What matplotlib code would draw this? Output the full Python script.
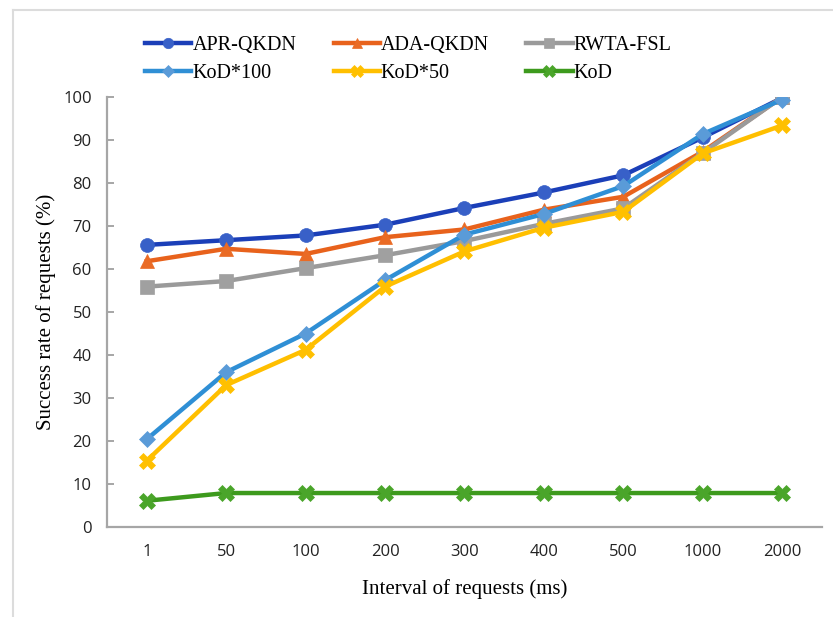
import numpy as np
import matplotlib
matplotlib.use("Agg")
import matplotlib.pyplot as plt
from matplotlib.lines import Line2D

# ---------------------------------------------------------------------------
# data
# ---------------------------------------------------------------------------
intervals = ["1", "50", "100", "200", "300", "400", "500", "1000", "2000"]

apr_qkdn  = [65.6, 66.7, 67.8, 70.3, 74.2, 77.8, 81.8, 90.6, 99.8]
ada_qkdn  = [61.8, 64.7, 63.5, 67.4, 69.2, 73.8, 76.8, 87.3, 100.0]
rwta_fsl  = [55.9, 57.2, 60.2, 63.2, 66.5, 70.5, 74.1, 87.0, 100.0]
kod_100   = [20.4, 36.0, 45.0, 57.4, 68.0, 72.8, 79.3, 91.4, 99.4]
kod_50    = [15.4, 33.0, 41.2, 55.9, 64.1, 69.6, 73.3, 86.9, 93.4]
kod       = [6.1, 7.9, 7.9, 7.9, 7.9, 7.9, 7.9, 7.9, 7.9]

series_names = ["APR-QKDN", "ADA-QKDN", "RWTA-FSL", "KoD*100", "KoD*50", "KoD"]

# ---------------------------------------------------------------------------
# styles
# ---------------------------------------------------------------------------
styles = [
    dict(color="#1b3fb8", marker="o", mfc="#3860c8", ms=10),
    dict(color="#e8621c", marker="^", mfc="#ea6b25", ms=10),
    dict(color="#9a9a9a", marker="s", mfc="#a0a0a0", ms=9.5),
    dict(color="#2f8fd5", marker="D", mfc="#5a9bd8", ms=8.5),
    dict(color="#ffbf00", marker="X", mfc="#ffc000", ms=11),
    dict(color="#3d9a1d", marker="X", mfc="#4aa52a", ms=11),
]
data = [apr_qkdn, ada_qkdn, rwta_fsl, kod_100, kod_50, kod]

fig = plt.figure(figsize=(8.33, 6.17), dpi=100)
ax = fig.add_axes([107 / 833, 1 - 527 / 617, (822 - 107) / 833, (527 - 97) / 617])

x = np.arange(len(intervals))
lines = []
for name, vals, st in zip(series_names, data, styles):
    ln, = ax.plot(x, vals, color=st["color"], lw=3.2, marker=st["marker"],
                  ms=st["ms"], mfc=st["mfc"], mec=st["mfc"], mew=0.5,
                  label=name, zorder=3)
    lines.append(ln)

ax.set_xlim(-0.5, len(intervals) - 0.5)
ax.set_ylim(0, 100)
ax.set_xticks(x)
ax.set_xticklabels(intervals)
ax.set_yticks(np.arange(0, 101, 10))

for s in ["top", "right"]:
    ax.spines[s].set_visible(False)
for s in ["left", "bottom"]:
    ax.spines[s].set_color("#a6a6a6")
    ax.spines[s].set_linewidth(1.6)

ax.tick_params(axis="y", direction="in", length=5, width=1.4, color="#a6a6a6",
               pad=11, labelsize=12, labelcolor="#222222")
ax.tick_params(axis="x", length=0, pad=12, labelsize=12, labelcolor="#222222")
for lab in ax.get_xticklabels() + ax.get_yticklabels():
    lab.set_family("Open Sans")

ax.set_ylabel("Success rate of requests (%)", family="Liberation Serif",
              fontsize=15, labelpad=5)
ax.set_xlabel("Interval of requests (ms)", family="Liberation Serif",
              fontsize=15, labelpad=14)

# legend filled row by row (matplotlib fills columns first)
order = [0, 3, 1, 4, 2, 5]
fig.legend([lines[i] for i in order], [series_names[i] for i in order],
           loc="upper left", bbox_to_anchor=(137 / 833, 1 - 28 / 617), ncol=3,
           frameon=False, prop=dict(family="Liberation Serif", size=14.5),
           handlelength=2.3, handletextpad=0.05, columnspacing=1.85,
           labelspacing=0.45, borderaxespad=0, markerscale=0.75)

# faint frame from the original screenshot
fig.add_artist(Line2D([13 / 833, 13 / 833], [0, 1 - 10 / 617],
                      color="#dcdcdc", lw=1.5))
fig.add_artist(Line2D([13 / 833, 1], [1 - 10 / 617, 1 - 10 / 617],
                      color="#dcdcdc", lw=1.5))

fig.savefig("out.png", dpi=100)
